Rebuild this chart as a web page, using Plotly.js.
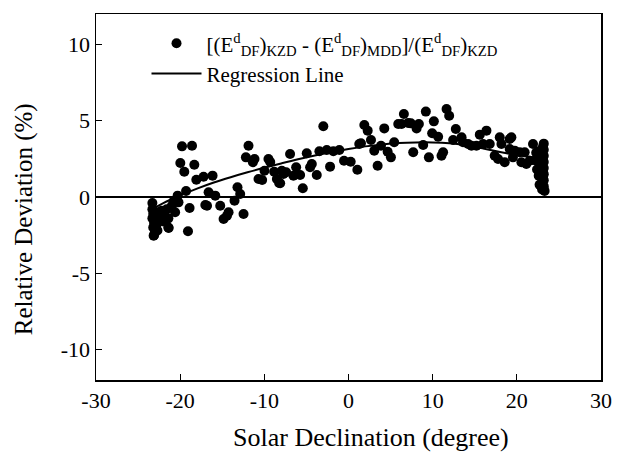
<!DOCTYPE html>
<html>
<head>
<meta charset="utf-8">
<script src="https://cdn.plot.ly/plotly-3.0.1.min.js"></script>
<style>html,body{margin:0;padding:0;background:#fff;}#chart{width:623px;height:456px;}</style>
</head>
<body>
<div id="chart"></div>
<script>
// Solar declination (degree) of each observation
const declX = [
  -23.3,-23.3,-23.2,-23.3,-23.1,-23.2,-23.0,-23.1,-22.9,-22.8,-22.7,-22.6,-22.5,-22.3,-22.2,-22.0,-21.9,-21.6,-21.4,-21.4,-21.0,-20.8,-20.6,
  -19.78,-18.59,-19.98,-18.32,-19.51,-18.08,-17.22,-19.30,-20.30,-18.88,-17.01,-21.37,-19.07,-20.2,-23.15,
  -11.88,-12.19,-11.17,-11.36,-9.51,-9.3,-10.69,-10.26,-9.98,-8.83,-8.51,-8.24,-7.73,-16.15,-16.62,-15.83,-16.81,-15.24,-13.19,-12.87,-13.54,-14.25,-14.44,-14.84,-12.47,
  -2.99,-6.94,-4.96,-3.46,-2.58,-1.80,-1.09,1.28,-7.92,-7.41,-6.54,-6.22,-5.75,-8.12,-5.43,-4.36,-4.56,-3.77,-2.19,-0.53,0.26,1.05,
  6.58,9.19,1.88,2.28,4.25,5.91,6.31,7.09,7.41,8.36,8.09,10.14,9.94,1.48,2.67,3.06,3.86,4.65,5.04,5.43,7.69,8.87,9.55,3.46,
  11.65,11.96,10.65,12.75,12.43,13.43,13.61,14.21,14.61,15.20,15.6,16.39,15.99,16.78,17.97,18.17,19.15,11.24,11.05,17.37,17.77,18.56,
  19.35,19.15,19.75,20.34,20.93,19.54,20.54,21.13,21.52,21.92,
  23.2,23.1,23.2,23.0,23.2,23.1,23.2,23.0,23.2,23.1,23.2,23.1,23.2,23.0,23.2,23.0,23.3,22.6,22.5,22.7,22.4,22.6,22.7,22.3,22.2
];
// Relative deviation (%) of each observation
const devY = [
  -0.4,-0.8,-1.1,-1.4,-1.7,-2.0,-2.3,-2.5,-1.2,-1.8,-2.2,-1.0,-1.5,-1.3,-0.9,-1.6,-1.1,-0.8,-1.4,-2.0,-0.6,-0.3,-1.0,
  3.32,3.36,2.23,2.12,1.66,1.13,1.33,0.39,0.09,-0.72,-0.52,-2.03,-2.25,-0.35,-2.54,
  3.36,2.60,2.49,2.28,2.49,2.3,1.18,1.11,1.72,1.66,1.18,0.92,1.51,1.40,0.31,0.09,-0.57,-0.57,0.64,0.2,-0.24,-1.0,-1.23,-1.44,-1.11,
  4.64,2.82,2.87,3.0,3.08,3.0,3.08,3.48,1.72,1.62,1.40,1.95,1.44,0.90,0.57,2.16,1.95,1.44,1.99,2.38,2.31,1.79,
  5.44,5.6,4.72,4.35,4.5,4.79,4.79,4.85,4.83,4.79,4.5,4.96,4.18,3.52,3.74,3.04,3.36,2.97,2.60,3.59,2.93,3.41,2.60,2.05,
  5.77,5.33,3.95,4.46,3.74,3.91,3.59,3.48,3.36,3.36,4.09,4.35,3.48,3.48,3.91,3.48,3.8,2.93,2.71,2.71,2.49,2.28,
  3.91,3.15,3.04,2.93,2.93,2.60,2.28,2.16,2.38,3.48,
  3.5,3.3,3.1,2.9,2.7,2.5,2.3,2.1,1.9,1.7,1.5,1.3,1.1,0.9,0.7,0.5,0.4,3.0,2.6,2.2,1.8,1.4,0.8,2.9,2.4
];
// Regression line
const regX = [-23,-22,-20,-18,-16,-14,-12,-10,-8,-6,-4,-2,0,2,4,6,8,10,12,14,16,18,20,22,23.2];
const regY = [-0.7,-0.4,0.1,0.55,0.95,1.3,1.62,1.92,2.2,2.47,2.72,2.95,3.15,3.32,3.45,3.54,3.58,3.58,3.52,3.38,3.18,2.95,2.75,2.6,2.5];

const xTicks = [-30,-20,-10,0,10,20,30];
const yTicks = [-10,-5,0,5,10];
const xTitle = 'Solar Declination (degree)';
const yTitle = 'Relative Deviation (%)';

const serif = '"Liberation Serif", "Times New Roman", Times, serif';

const traces = [
  {
    x: declX, y: devY, type: 'scatter', mode: 'markers',
    name: '[(E<sup>d</sup><sub>DF</sub>)<sub>KZD</sub> - (E<sup>d</sup><sub>DF</sub>)<sub>MDD</sub>]/(E<sup>d</sup><sub>DF</sub>)<sub>KZD</sub>',
    marker: {color: '#000', size: 10}
  },
  {
    x: regX, y: regY, type: 'scatter', mode: 'lines',
    name: 'Regression Line',
    line: {color: '#000', width: 2, shape: 'spline'}
  }
];

const layout = {
  width: 623, height: 456,
  margin: {l: 95.5, r: 21.5, t: 14, b: 76},
  paper_bgcolor: '#fff', plot_bgcolor: '#fff',
  font: {family: serif, color: '#000', size: 22},
  showlegend: true,
  legend: {
    x: 0.1, y: 0.975, xanchor: 'left', yanchor: 'top',
    bgcolor: 'rgba(0,0,0,0)', borderwidth: 0,
    itemwidth: 50,
    font: {family: serif, size: 21, color: '#000'},
    tracegroupgap: 0
  },
  xaxis: {
    range: [-30, 30], tickvals: xTicks, ticktext: xTicks.map(String),
    ticks: 'inside', ticklen: 6, tickwidth: 1.2, tickcolor: '#000',
    showline: true, linecolor: '#000', linewidth: 1.5, mirror: true,
    showgrid: false, zeroline: false,
    tickfont: {family: serif, size: 22, color: '#000'}
  },
  yaxis: {
    range: [-12, 12], tickvals: yTicks, ticktext: yTicks.map(String),
    ticks: 'inside', ticklen: 6, tickwidth: 1.2, tickcolor: '#000',
    showline: true, linecolor: '#000', linewidth: 1.5, mirror: true,
    showgrid: false, zeroline: true, zerolinecolor: '#000', zerolinewidth: 1.5,
    tickfont: {family: serif, size: 22, color: '#000'}
  },
  annotations: [
    {text: xTitle, xref: 'paper', yref: 'paper', x: 0.545, y: -0.156, xanchor: 'center', yanchor: 'middle',
     showarrow: false, font: {family: serif, size: 26, color: '#000'}},
    {text: yTitle, xref: 'paper', yref: 'paper', x: -0.142, y: 0.44, xanchor: 'center', yanchor: 'middle',
     textangle: -90, showarrow: false, font: {family: serif, size: 25, color: '#000'}}
  ]
};

Plotly.newPlot('chart', traces, layout, {displayModeBar: false, staticPlot: true});
</script>
</body>
</html>
